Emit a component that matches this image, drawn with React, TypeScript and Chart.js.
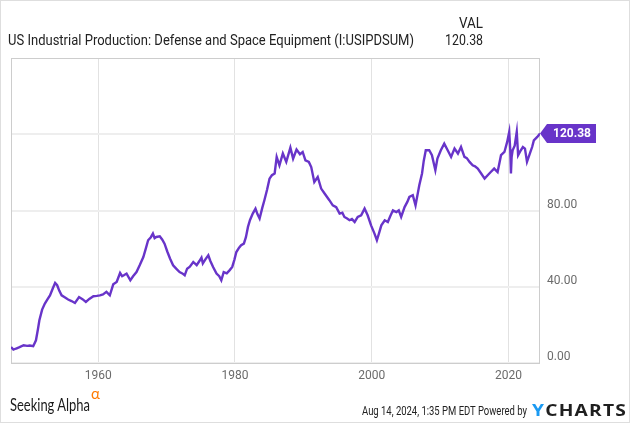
import React, { useEffect, useLayoutEffect, useRef } from "react";
import { Chart, registerables } from "chart.js";

Chart.register(...registerables);

const TITLE = "US Industrial Production: Defense and Space Equipment (I:USIPDSUM)";
const COLUMN_HEADER = "VAL";
const TIMESTAMP = "Aug 14, 2024, 1:35 PM EDT Powered by";
const X_TICKS = [1960, 1980, 2000, 2020];
const Y_TICKS = [0, 40, 80, 120];
const Y_LABELS_HIDDEN = [120];

const DATES = [
  1947.25, 1947.6, 1948.0, 1948.5, 1949.1, 1949.6, 1950.0, 1950.5, 1950.9, 1951.2,
  1951.4, 1951.8, 1952.2, 1952.6, 1952.95, 1953.4, 1953.7, 1954.0, 1954.3, 1954.65,
  1955.1, 1955.6, 1956.1, 1956.6, 1957.2, 1957.7, 1958.2, 1958.7, 1959.3, 1959.8,
  1960.25, 1960.7, 1961.2, 1961.7, 1962.2, 1962.7, 1963.2, 1963.5, 1963.75, 1964.15,
  1964.7, 1965.1, 1965.6, 1966.1, 1966.6, 1967.0, 1967.3, 1967.7, 1968.0, 1968.25,
  1968.5, 1969.0, 1969.35, 1969.7, 1970.1, 1970.5, 1970.95, 1971.4, 1971.9, 1972.3,
  1972.65, 1973.0, 1973.4, 1973.9, 1974.4, 1974.8, 1975.1, 1975.3, 1975.7, 1976.1,
  1976.4, 1976.8, 1977.3, 1977.7, 1978.0, 1978.35, 1978.8, 1979.2, 1979.6, 1979.9,
  1980.2, 1980.6, 1980.9, 1981.3, 1981.6, 1981.9, 1982.2, 1982.6, 1983.0, 1983.3,
  1983.6, 1984.0, 1984.3, 1984.7, 1985.05, 1985.4, 1985.8, 1986.1, 1986.5, 1987.0,
  1987.5, 1988.1, 1988.5, 1989.0, 1989.5, 1989.9, 1990.3, 1990.8, 1991.15, 1991.6,
  1992.1, 1992.6, 1993.1, 1993.8, 1994.3, 1994.8, 1995.3, 1995.7, 1996.0, 1996.4,
  1996.75, 1997.1, 1997.5, 1997.95, 1998.45, 1998.95, 1999.4, 1999.9, 2000.4, 2000.75,
  2001.1, 2001.4, 2001.9, 2002.35, 2002.7, 2003.1, 2003.6, 2003.95, 2004.3, 2004.8,
  2005.2, 2005.5, 2006.0, 2006.4, 2006.95, 2007.35, 2007.6, 2007.9, 2008.4, 2008.8,
  2009.3, 2009.6, 2010.1, 2010.6, 2011.1, 2011.6, 2012.1, 2012.6, 2013.05, 2013.55,
  2013.9, 2014.3, 2014.75, 2015.1, 2015.5, 2016.0, 2016.5, 2016.95, 2017.4, 2017.9,
  2018.4, 2018.9, 2019.4, 2019.8, 2020.1, 2020.25, 2020.35, 2020.45, 2020.6, 2020.9,
  2021.2, 2021.4, 2021.7, 2022.1, 2022.4, 2022.7, 2023.2, 2023.45, 2023.7, 2024.2,
  2024.6,
];

const VALUES = [
  8.4, 7.0, 7.6, 8.3, 9.3, 9.0, 9.2, 8.8, 11.9, 18.0,
  22.4, 28.0, 31.2, 33.5, 35.5, 39.5, 42.0, 40.8, 38.0, 35.5,
  34.5, 33.3, 32.5, 31.5, 34.6, 33.5, 32.0, 33.6, 35.0, 35.2,
  35.5, 36.0, 37.3, 35.5, 41.3, 42.5, 47.2, 45.5, 46.0, 46.9,
  43.4, 45.5, 47.7, 51.5, 55.6, 60.5, 64.4, 66.0, 67.9, 65.5,
  66.1, 66.5, 64.8, 62.6, 58.5, 54.8, 51.3, 49.5, 47.7, 47.0,
  46.0, 49.5, 50.5, 53.0, 51.3, 53.5, 55.3, 52.2, 54.5, 56.5,
  53.5, 50.4, 46.9, 45.5, 43.4, 47.7, 47.0, 48.6, 50.4, 54.0,
  58.2, 60.5, 61.8, 62.6, 66.0, 71.4, 75.0, 78.4, 81.0, 78.0,
  75.8, 81.5, 85.4, 91.0, 96.7, 98.5, 99.4, 108.1, 103.7, 109.9,
  105.5, 113.0, 107.2, 112.0, 109.5, 110.7, 106.3, 105.5, 102.8, 95.0,
  97.6, 91.5, 88.9, 85.4, 82.7, 81.8, 78.4, 78.8, 76.6, 75.8,
  74.9, 75.5, 74.0, 76.6, 77.5, 81.0, 77.5, 72.2, 67.9, 64.4,
  68.5, 72.2, 74.9, 74.0, 77.0, 80.1, 79.2, 80.1, 76.6, 81.8,
  84.5, 87.1, 88.0, 82.7, 93.2, 99.4, 106.0, 111.6, 111.6, 109.0,
  101.1, 107.2, 111.6, 115.1, 111.6, 108.1, 112.5, 109.9, 113.3, 108.1,
  107.5, 105.5, 103.7, 103.2, 102.0, 99.4, 96.7, 98.5, 100.2, 102.0,
  100.2, 109.0, 110.7, 116.0, 121.2, 112.0, 99.4, 108.0, 111.6, 114.0,
  121.2, 109.0, 111.0, 113.3, 112.5, 105.5, 110.7, 113.3, 116.8, 118.6,
  120.38,
];

const LINE_COLOR = "#6834c9";
const LAST_VALUE = VALUES[VALUES.length - 1];

type FitProps = {
  x: number;
  cy: number;
  w: number;
  size: number;
  lh: number;
  align?: "left" | "right";
  style?: React.CSSProperties;
  children: React.ReactNode;
};

function Fit({ x, cy, w, size, lh, align = "left", style, children }: FitProps) {
  const ref = useRef<HTMLSpanElement>(null);
  useLayoutEffect(() => {
    const measure = () => {
      const el = ref.current;
      if (!el) return;
      el.style.transform = "none";
      const nat = el.getBoundingClientRect().width;
      if (nat > 0) el.style.transform = `scaleX(${w / nat})`;
    };
    measure();
    const fonts = (document as any).fonts;
    if (fonts && fonts.ready) fonts.ready.then(measure);
  });
  const box: React.CSSProperties = {
    position: "absolute",
    top: cy - lh / 2,
    height: lh,
    lineHeight: lh + "px",
    fontSize: size,
    whiteSpace: "nowrap",
  };
  if (align === "left") box.left = x;
  else box.right = 635 - x;
  return (
    <div style={box}>
      <span
        ref={ref}
        style={{
          display: "inline-block",
          transformOrigin: align === "left" ? "0 50%" : "100% 50%",
          ...style,
        }}
      >
        {children}
      </span>
    </div>
  );
}

export default function App() {
  const canvasRef = useRef<HTMLCanvasElement>(null);

  useEffect(() => {
    document.body.style.margin = "0";
    const canvas = canvasRef.current;
    if (!canvas) return;

    const framePlugin = {
      id: "frame",
      beforeDatasetsDraw(chart: any) {
        const { ctx, chartArea } = chart;
        ctx.save();
        ctx.strokeStyle = "#cdcdcd";
        ctx.lineWidth = 1;
        ctx.strokeRect(
          Math.round(chartArea.left) + 0.5,
          Math.round(chartArea.top) + 0.5,
          Math.round(chartArea.right - chartArea.left) - 1,
          Math.round(chartArea.bottom - chartArea.top)
        );
        ctx.restore();
      },
    };

    const tagPlugin = {
      id: "valueTag",
      afterDraw(chart: any) {
        const { ctx, chartArea, scales } = chart;
        const y = scales.y.getPixelForValue(LAST_VALUE);
        const x0 = chartArea.right;
        const h = 9.5;
        ctx.save();
        ctx.fillStyle = LINE_COLOR;
        ctx.beginPath();
        ctx.moveTo(x0, y);
        ctx.lineTo(x0 + 7, y - h);
        ctx.lineTo(x0 + 56, y - h);
        ctx.lineTo(x0 + 56, y + h);
        ctx.lineTo(x0 + 7, y + h);
        ctx.closePath();
        ctx.fill();
        ctx.fillStyle = "#ffffff";
        ctx.font = "bold 12px Roboto";
        ctx.textAlign = "center";
        ctx.textBaseline = "middle";
        ctx.fillText(LAST_VALUE.toFixed(2), x0 + 32, y + 0.5);
        ctx.restore();
      },
    };

    const chart = new Chart(canvas, {
      type: "line",
      data: {
        datasets: [
          {
            data: DATES.map((d, i) => ({ x: d, y: VALUES[i] })),
            borderColor: LINE_COLOR,
            borderWidth: 2.4,
            pointRadius: 0,
            tension: 0,
            fill: false,
          },
        ],
      },
      options: {
        animation: false,
        responsive: false,
        devicePixelRatio: 1,
        layout: { padding: { left: 11, top: 58, right: 0, bottom: 0 } },
        plugins: { legend: { display: false }, tooltip: { enabled: false } },
        scales: {
          x: {
            type: "linear",
            position: "bottom",
            min: 1947.25,
            max: 2024.6,
            afterFit: (s: any) => {
              s.height = 61;
            },
            afterBuildTicks: (s: any) => {
              s.ticks = X_TICKS.map((v) => ({ value: v }));
            },
            grid: { color: "#e2e2e2", lineWidth: 1, drawTicks: false },
            border: { display: false },
            ticks: {
              color: "#6b6b6b",
              font: { family: "Roboto", size: 12 },
              padding: 6,
              maxRotation: 0,
              callback: (v: any) => String(v),
            },
          },
          y: {
            position: "right",
            min: 0,
            max: 160,
            afterFit: (s: any) => {
              s.width = 95;
            },
            afterBuildTicks: (s: any) => {
              s.ticks = Y_TICKS.map((v) => ({ value: v }));
            },
            grid: { color: "#eeeeee", lineWidth: 2, drawTicks: false },
            border: { display: false },
            ticks: {
              color: "#6b6b6b",
              font: { family: "Roboto", size: 12 },
              padding: 7,
              labelOffset: -6,
              callback: (v: any) =>
                Y_LABELS_HIDDEN.includes(Number(v)) ? "" : Number(v).toFixed(2),
            },
          },
        },
      },
      plugins: [framePlugin, tagPlugin],
    });

    return () => chart.destroy();
  }, []);

  return (
    <div
      style={{
        position: "fixed",
        left: 0,
        top: 0,
        width: 635,
        height: 424,
        background: "#ffffff",
        fontFamily: "Roboto, sans-serif",
        color: "#222222",
        overflow: "hidden",
      }}
    >
      <div
        style={{
          position: "absolute",
          left: 0,
          top: 0,
          width: 630,
          height: 423,
          border: "1px solid #dedede",
          boxSizing: "border-box",
        }}
      />
      <canvas
        ref={canvasRef}
        width={635}
        height={424}
        style={{ position: "absolute", left: 0, top: 0, width: 635, height: 424 }}
      />
      <Fit x={8} cy={39.5} w={406} size={14} lh={18}>
        {TITLE}
      </Fit>
      <Fit x={483} cy={22.7} w={24} size={14} lh={18} align="right">
        {COLUMN_HEADER}
      </Fit>
      <Fit x={483} cy={39.5} w={38} size={14} lh={18} align="right">
        {LAST_VALUE.toFixed(2)}
      </Fit>
      <Fit x={10} cy={404} w={80} size={18} lh={22} style={{ fontFamily: "Lato, sans-serif", color: "#1a1a1a" }}>
        Seeking Alpha
      </Fit>
      <Fit x={91} cy={393} w={9} size={15} lh={18} style={{ fontFamily: "Lato, sans-serif", color: "#ff7a00" }}>
        α
      </Fit>
      <Fit x={362} cy={411} w={165} size={12} lh={16} style={{ color: "#222" }}>
        {TIMESTAMP}
      </Fit>
      <Fit
        x={532}
        cy={410}
        w={95}
        size={16}
        lh={20}
        style={{ fontWeight: 700, letterSpacing: "1px", color: "#1f1f1f", fontFamily: "'Open Sans', Roboto, sans-serif" }}
      >
        <span style={{ color: "#1b9af2" }}>Y</span>CHARTS
      </Fit>
    </div>
  );
}
